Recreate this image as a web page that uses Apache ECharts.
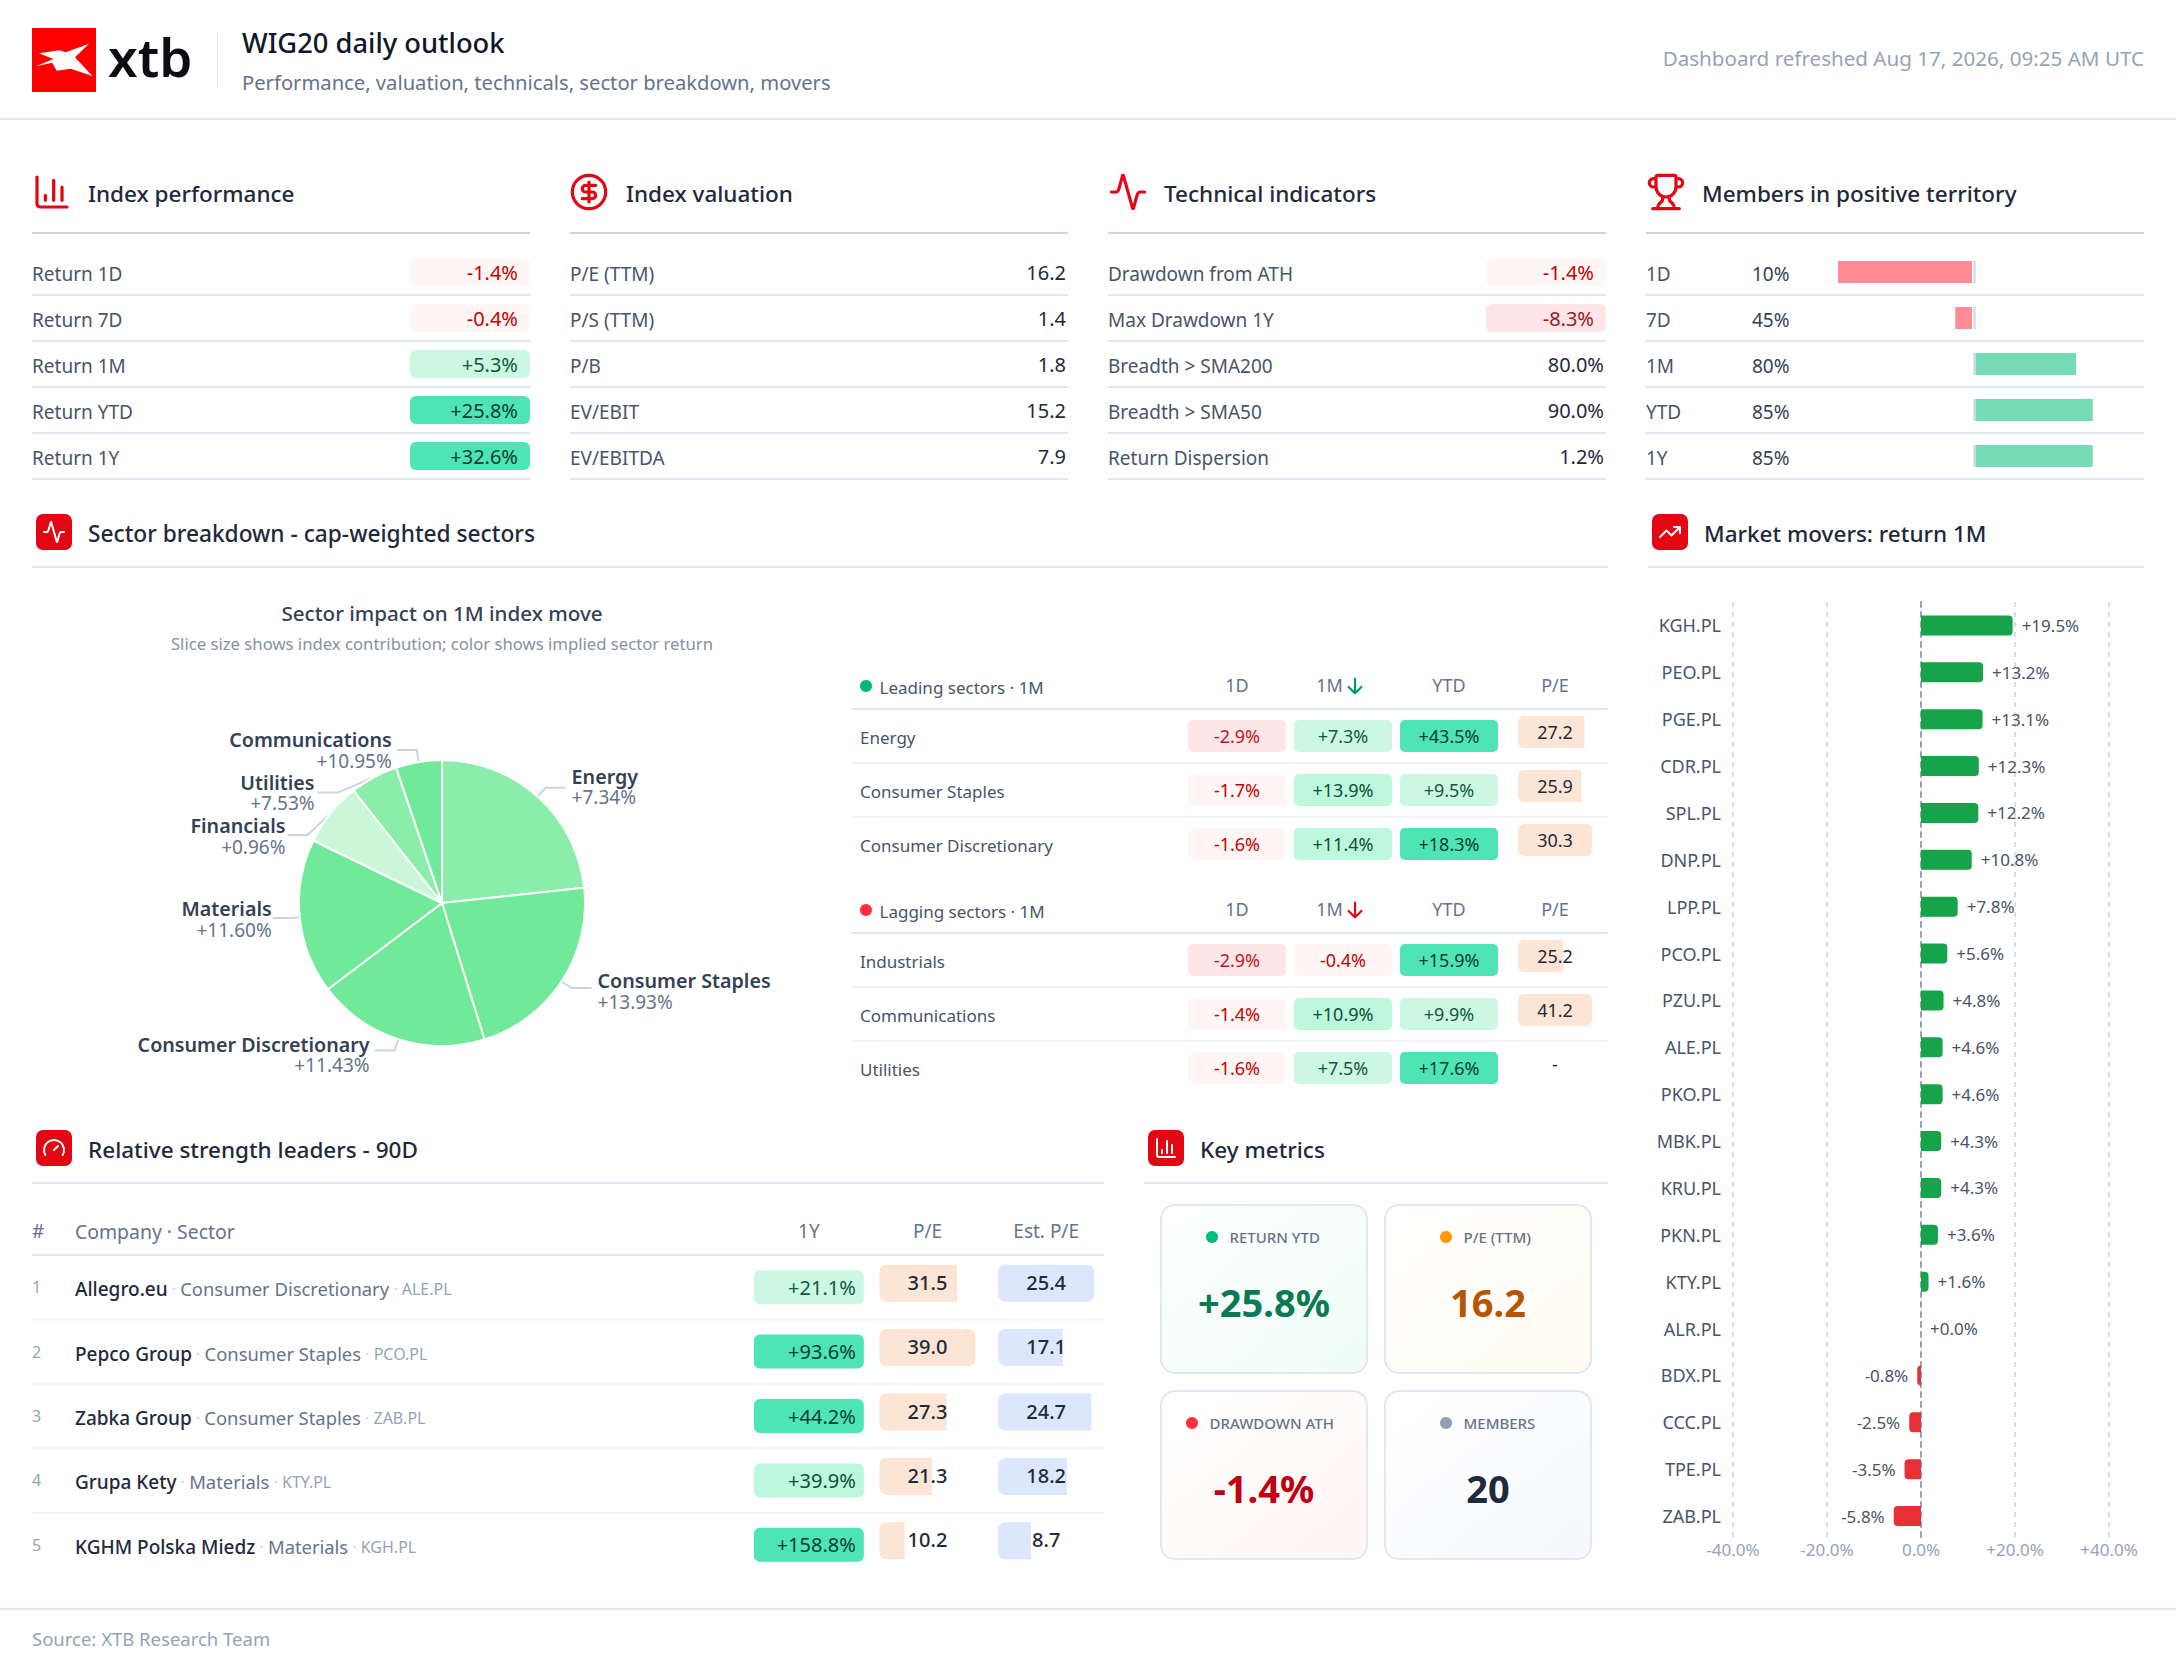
<!DOCTYPE html>
<html><head><meta charset="utf-8"><title>WIG20 daily outlook</title>
<style>html,body{margin:0;padding:0;background:#fff}#c{width:2176px;height:1666px}</style>
<script src="https://cdn.jsdelivr.net/npm/echarts@6/dist/echarts.min.js"></script>
</head><body><div id="c"></div><script>
const perfLabels=['Return 1D','Return 7D','Return 1M','Return YTD','Return 1Y'];
const perfValues=[-1.4,-0.4,5.3,25.8,32.6];
const valuationLabels=['P/E (TTM)','P/S (TTM)','P/B','EV/EBIT','EV/EBITDA'];
const valuationValues=[16.2,1.4,1.8,15.2,7.9];
const techLabels=['Drawdown from ATH','Max Drawdown 1Y','Breadth > SMA200','Breadth > SMA50','Return Dispersion'];
const techValues=[-1.4,-8.3,80.0,90.0,1.2];
const memberLabels=['1D','7D','1M','YTD','1Y'];
const memberPct=[10,45,80,85,85];
const pieSectors=['Energy','Consumer Staples','Consumer Discretionary','Materials','Financials','Utilities','Communications'];
const pieContribution=[23.3,21.9,19.5,17.5,7.2,5.4,5.2];
const pieReturns=[7.34,13.93,11.43,11.60,0.96,7.53,10.95];
const sectorCols=['1D','1M','YTD','P/E'];
const leadingNames=['Energy','Consumer Staples','Consumer Discretionary'];
const leading1D=[-2.9,-1.7,-1.6];
const leading1M=[7.3,13.9,11.4];
const leadingYTD=[43.5,9.5,18.3];
const leadingPE=[27.2,25.9,30.3];
const laggingNames=['Industrials','Communications','Utilities'];
const lagging1D=[-2.9,-1.4,-1.6];
const lagging1M=[-0.4,10.9,7.5];
const laggingYTD=[15.9,9.9,17.6];
const laggingPE=[25.2,41.2,null];
const rsCompanies=['Allegro.eu','Pepco Group','Zabka Group','Grupa Kety','KGHM Polska Miedz'];
const rsSectors=['Consumer Discretionary','Consumer Staples','Consumer Staples','Materials','Materials'];
const rsTickers=['ALE.PL','PCO.PL','ZAB.PL','KTY.PL','KGH.PL'];
const rs1Y=[21.1,93.6,44.2,39.9,158.8];
const rsPE=[31.5,39.0,27.3,21.3,10.2];
const rsEstPE=[25.4,17.1,24.7,18.2,8.7];
const rsCols=['1Y','P/E','Est. P/E'];
const moverTickers=['KGH.PL','PEO.PL','PGE.PL','CDR.PL','SPL.PL','DNP.PL','LPP.PL','PCO.PL','PZU.PL','ALE.PL','PKO.PL','MBK.PL','KRU.PL','PKN.PL','KTY.PL','ALR.PL','BDX.PL','CCC.PL','TPE.PL','ZAB.PL'];
const moverReturns=[19.5,13.2,13.1,12.3,12.2,10.8,7.8,5.6,4.8,4.6,4.6,4.3,4.3,3.6,1.6,0.0,-0.8,-2.5,-3.5,-5.8];
const metricLabels=['RETURN YTD','P/E (TTM)','DRAWDOWN ATH','MEMBERS'];
const metricValues=['+25.8%','16.2','-1.4%','20'];

const FONT='"Noto Sans"';
const RED='#e30613';
const signed=v=>(v>=0?'+':'')+v.toFixed(1)+'%';
function heat(v,mid,strong){
  if(v<=-2) return {bg:'#ffe5e7',fg:v<=-5?'#991b1b':'#b91c1c'};
  if(v<0) return {bg:'#fff6f5',fg:'#c80000'};
  if(v>=strong) return {bg:'#4ee4b6',fg:'#063f2e'};
  if(v>=mid) return {bg:'#bdf8dd',fg:'#0b4f38'};
  return {bg:'#ccf8e3',fg:'#0f5a3d'};
}
const grids=[],xAxes=[],yAxes=[],series=[],gfx=[];
function txt(x,y,text,size,fill,weight,align){
  gfx.push({type:'text',x,y,silent:true,z:5,style:{text,fill,fontFamily:FONT,fontSize:size,fontWeight:weight||400,align:align||'left',verticalAlign:'middle'}});
}
function rule(x1,x2,y,color){gfx.push({type:'rect',silent:true,z:1,shape:{x:x1,y:y-1,width:x2-x1,height:2},style:{fill:color}});}
function dot(x,y,r,fill){gfx.push({type:'circle',silent:true,z:5,shape:{cx:x,cy:y,r},style:{fill}});}
function addGrid(g,x,y){grids.push(g);xAxes.push(Object.assign({gridIndex:grids.length-1},x));yAxes.push(Object.assign({gridIndex:grids.length-1},y));return grids.length-1;}
function cellSeries(gi,cells){
  series.push({type:'custom',coordinateSystem:'cartesian2d',xAxisIndex:gi,yAxisIndex:gi,clip:false,silent:true,z:4,
    data:cells.map(c=>[c.col,c.row]),
    renderItem(params,api){
      const c=cells[params.dataIndex];const p=api.coord([c.col,c.row]);const band=api.size([1,0])[0];
      return {type:'group',children:c.draw(p,band,api)};
    }});
}
const rectEl=(x,y,w,h,fill,r)=>({type:'rect',shape:{x,y,width:w,height:h,r},style:{fill}});
const textEl=(x,y,text,size,fill,weight,align)=>({type:'text',style:{x,y,text,fill,fontFamily:FONT,fontSize:size,fontWeight:weight||400,align:align||'center',verticalAlign:'middle'}});
const hiddenCat=data=>({type:'category',data,axisLine:{show:false},axisTick:{show:false},axisLabel:{show:false},splitLine:{show:false}});

/* ---- page chrome ---- */
gfx.push({type:'rect',silent:true,shape:{x:32,y:28,width:64,height:64},style:{fill:'#ff0000'}});
gfx.push({type:'polygon',silent:true,z:3,shape:{points:[[39,53.3],[59.3,50.3],[65.7,52.3],[89,43.7],[75,57.3],[92.3,76],[70.7,68.7],[56.7,70.7],[52.3,62.7],[36,66.3],[53.3,59]]},style:{fill:'#fff'}});
txt(108,56,'xtb',53,'#0b0d12',600);
gfx.push({type:'rect',silent:true,shape:{x:217,y:32,width:1,height:56},style:{fill:'#e2e8f0'}});
txt(242,42,'WIG20 daily outlook',27.3,'#0f172a',500);
txt(242,82,'Performance, valuation, technicals, sector breakdown, movers',20.2,'#64748b',400);
txt(2144,58,'Dashboard refreshed Aug 17, 2026, 09:25 AM UTC',20.6,'#94a3b8',400,'right');
rule(0,2176,119,'#e2e8f0');
rule(0,2176,1609,'#e2e8f0');
txt(32,1638.5,'Source: XTB Research Team',18.5,'#94a3b8',400);

/* ---- section headers ---- */
const P={
 chart:'M3 3v16a2 2 0 0 0 2 2h16M18 17V9M13 17V5M8 17v-3',
 dollar:'M12 2a10 10 0 1 0 0 20a10 10 0 1 0 0-20zM16 8h-6a2 2 0 1 0 0 4h4a2 2 0 1 1 0 4H8M12 18V6',
 pulse:'M22 12h-2.48a2 2 0 0 0-1.93 1.46l-2.35 8.36a.25.25 0 0 1-.48 0L9.24 2.18a.25.25 0 0 0-.48 0l-2.35 8.36A2 2 0 0 1 4.49 12H2',
 trophy:'M10 14.66v1.626a2 2 0 0 1-.976 1.696A5 5 0 0 0 7 21.978M14 14.66v1.626a2 2 0 0 0 .976 1.696A5 5 0 0 1 17 21.978M18 9h1.5a1 1 0 0 0 0-5H18M4 22h16M6 9a6 6 0 0 0 12 0V3a1 1 0 0 0-1-1H7a1 1 0 0 0-1 1zM6 9H4.5a1 1 0 0 1 0-5H6',
 trend:'M22 7 13.5 15.5 8.5 10.5 2 17M16 7h6v6',
 gauge:'M12 14l4-4M3.34 19a10 10 0 1 1 17.32 0',
 arrow:'M12 4v16M19 13l-7 7-7-7'
};
const icons=[
 {x:32,y:172,p:P.chart},{x:569,y:172,p:P.dollar},{x:1108,y:172,p:P.pulse},{x:1646,y:172,p:P.trophy},
 {x:36,y:514,p:P.pulse,box:1},{x:1652,y:514,p:P.trend,box:1},{x:36,y:1130,p:P.gauge,box:1},{x:1148,y:1130,p:P.chart,box:1},
 {x:1344,y:675,p:P.arrow,size:22,color:'#059669',lw:2.2},{x:1344,y:899,p:P.arrow,size:22,color:RED,lw:2.2}
];
series.push({type:'custom',coordinateSystem:'none',silent:true,z:6,data:icons.map((_,i)=>[i]),
 renderItem(params){
  const ic=icons[params.dataIndex];const kids=[];
  const sz=ic.size||(ic.box?24:40),ox=ic.box?ic.x+6:ic.x,oy=ic.box?ic.y+6:ic.y;
  if(ic.box)kids.push(rectEl(ic.x,ic.y,36,36,RED,7));
  kids.push({type:'path',shape:{pathData:'M0 0M24 24'+ic.p,x:ox,y:oy,width:sz,height:sz,layout:'cover'},
    style:{fill:'none',stroke:ic.color||(ic.box?'#fff':RED),lineWidth:ic.lw||(ic.box?2:3.2),lineCap:'round',lineJoin:'round'}});
  return {type:'group',children:kids};
 }});
const TITLE='#1e293b',TS=22.5;
[[88,193.5,'Index performance',32,530],[626,193.5,'Index valuation',570,1068],[1164,193.5,'Technical indicators',1108,1606],[1702,193.5,'Members in positive territory',1646,2144]].forEach(a=>{txt(a[0],a[1],a[2],TS,TITLE,500);rule(a[3],a[4],233,'#cbd5e1');});
[[88,533,'Sector breakdown - cap-weighted sectors',32,1608],[1704,533,'Market movers: return 1M',1648,2144]].forEach(a=>{txt(a[0],a[1],a[2],a[0]===88?22.7:TS,TITLE,500);rule(a[3],a[4],567,'#e2e8f0');});
[[88,1149,'Relative strength leaders - 90D',32,1104],[1200,1149,'Key metrics',1144,1608]].forEach(a=>{txt(a[0],a[1],a[2],TS,TITLE,500);rule(a[3],a[4],1183,'#e2e8f0');});

/* ---- four top tables ---- */
function labelAxis(data,margin,extra){
  const size=(extra&&extra.fontSize)||19;
  const plain={formatter:v=>'{t|'+v+'}',rich:{t:{fontFamily:FONT,fontSize:size,color:'#475569',padding:[3,0,0,0]}}};
  return {type:'category',data,inverse:true,axisLine:{show:false},axisTick:{show:false},splitLine:{show:false},
    axisLabel:Object.assign({show:true,interval:0,align:'left',margin,fontFamily:FONT,fontSize:size,color:'#475569'},(extra&&extra.rich)?extra:plain)};
}
function kpiTable(left,right,labels,values,isChip,fmt){
  [295,341,387,433,479].forEach(y=>rule(left,right,y,'#e2e8f0'));
  const gi=addGrid({left,top:249,width:right-left,height:230},hiddenCat(['value']),labelAxis(labels,0));
  cellSeries(gi,values.map((v,i)=>({col:0,row:i,draw(p,band){
    const r=p[0]+band/2;
    if(isChip(i)){const h=heat(v,10,15);return [rectEl(r-120,p[1]-14,120,28,h.bg,6),textEl(r-12,p[1],fmt(v),20,h.fg,400,'right')];}
    return [textEl(r-2,p[1],fmt(v),20,'#1e293b',400,'right')];
  }})));
}
kpiTable(32,530,perfLabels,perfValues,()=>true,signed);
kpiTable(570,1068,valuationLabels,valuationValues,()=>false,v=>v.toFixed(1));
kpiTable(1108,1606,techLabels,techValues,i=>i<2,v=>v<0?signed(v):v.toFixed(1)+'%');

[295,341,387,433,479].forEach(y=>rule(1646,2144,y,'#e2e8f0'));
const mi=addGrid({left:1807,top:249,width:335,height:230},
  {type:'value',min:-50,max:50,show:false},
  labelAxis(memberLabels.map((m,i)=>'{a|'+m+'}{b|'+memberPct[i]+'%}'),161,{rich:{a:{width:106,fontFamily:FONT,fontSize:19,color:'#475569',padding:[3,0,0,0]},b:{fontFamily:FONT,fontSize:19,color:'#334155',padding:[3,0,0,0]}}}));
series.push({type:'custom',coordinateSystem:'cartesian2d',xAxisIndex:mi,yAxisIndex:mi,clip:false,silent:true,
  data:memberPct.map((p,i)=>[p-50,i]),
  renderItem(params,api){
    const v=api.value(0),z=api.coord([0,api.value(1)]),e=api.coord([v,api.value(1)]);
    const w=Math.abs(e[0]-z[0]);
    return {type:'group',children:[
      v<0?rectEl(z[0]-2.5-w,z[1]-11,w,22,'#ff8c94',0):rectEl(z[0]+1,z[1]-11,w,22,'#76dcb8',0),
      rectEl(z[0]-1,z[1]-11,2,22,'#cbd5e1',0)]};
  }});

/* ---- pie ---- */
txt(442,613,'Sector impact on 1M index move',20.6,'#334155',500,'center');
txt(442,643.5,'Slice size shows index contribution; color shows implied sector return',16.7,'#8492a6',400,'center');
const pieColor=r=>r<1?'#c9f7d8':r<8?'#8aeeaa':'#70e999';
const pieNudge=[[1,-1],[1,3],[0,4],[4,1],[3,1.2],[2,0],[0,0]];
series.push({type:'pie',center:[442,903],radius:143,startAngle:90,clockwise:true,silent:true,
  itemStyle:{borderColor:'#fff',borderWidth:2},
  minShowLabelAngle:0,avoidLabelOverlap:true,
  label:{formatter:p=>'{n|'+p.name+'}\n{v|+'+pieReturns[p.dataIndex].toFixed(2)+'%}',
    rich:{n:{fontFamily:FONT,fontSize:19.7,fontWeight:600,color:'#334155',lineHeight:21},v:{fontFamily:FONT,fontSize:19,color:'#64748b',lineHeight:21}}},
  labelLine:{length:12,length2:20,lineStyle:{color:'#cbd5e1',width:2}},
  labelLayout:p=>({dx:pieNudge[p.dataIndex][0],dy:pieNudge[p.dataIndex][1]}),
  data:pieSectors.map((n,i)=>({name:n,value:pieContribution[i],itemStyle:{color:pieColor(pieReturns[i])}}))});

/* ---- sector tables ---- */
function sectorTable(top,title,dotColor,names,d1,m1,ytd,pe){
  const hy=top-23;
  dot(866,hy,6,dotColor);
  txt(879.5,hy+1,title,17,'#475569',400);
  rule(852,1608,top,'#e2e8f0');
  rule(852,1608,top+54,'#f1f5f9');
  rule(852,1608,top+108,'#f1f5f9');
  const gi=addGrid({left:1184,top,width:424,height:162},
    {type:'category',data:sectorCols,position:'top',axisLine:{show:false},axisTick:{show:false},splitLine:{show:false},
     axisLabel:{show:true,interval:0,margin:15,fontFamily:FONT,fontSize:18,color:'#64748b',
       formatter:v=>v==='1M'?'{m|'+v+'}{a| }':v,rich:{m:{fontFamily:FONT,fontSize:18,color:'#64748b'},a:{width:27,fontSize:18}}}},
    labelAxis(names,324,{fontSize:17}));
  const cells=[];
  [d1,m1,ytd].forEach((arr,c)=>arr.forEach((v,r)=>cells.push({col:c,row:r,draw(p){
    const h=heat(v,10,15);
    return [rectEl(p[0]-49,p[1]-16,98,32,h.bg,5),textEl(p[0],p[1],signed(v),18,h.fg)];
  }})));
  const maxPE=Math.max(...pe.filter(v=>v!=null));
  pe.forEach((v,r)=>cells.push({col:3,row:r,draw(p){
    if(v==null)return [textEl(p[0],p[1]-4,'-',18,'#1e293b')];
    const w=74*v/maxPE;
    return [rectEl(p[0]-37,p[1]-20,w,32,'#fde5d5',v===maxPE?6:[6,0,0,6]),textEl(p[0],p[1]-4,v.toFixed(1),18,'#1e293b')];
  }}));
  cellSeries(gi,cells);
}
sectorTable(709,'Leading sectors · 1M','#00b976',leadingNames,leading1D,leading1M,leadingYTD,leadingPE);
sectorTable(933,'Lagging sectors · 1M','#ff2d3d',laggingNames,lagging1D,lagging1M,laggingYTD,laggingPE);

/* ---- relative strength ---- */
txt(32,1231,'#',19,'#64748b');
txt(75,1231,'Company · Sector',19.4,'#64748b');
rule(32,1104,1255,'#e2e8f0');
[1319.5,1384,1448,1513].forEach(y=>rule(32,1104,y,'#f1f5f9'));
const rsLabels=rsCompanies.map((c,i)=>'{r|'+(i+1)+'}{n|'+c+'}{d| · }{s|'+rsSectors[i]+'}{d| · }{t|'+rsTickers[i]+'}');
const ri=addGrid({left:749.5,top:1255,width:356,height:322},
  {type:'category',data:rsCols,position:'top',axisLine:{show:false},axisTick:{show:false},splitLine:{show:false},
   axisLabel:{show:true,interval:0,margin:15,fontFamily:FONT,fontSize:19,color:'#64748b'}},
  labelAxis(rsLabels,717.5,{rich:{
    r:{width:43,fontFamily:FONT,fontSize:16,color:'#94a3b8'},
    n:{fontFamily:FONT,fontSize:19,fontWeight:500,color:'#1e293b',padding:[4,0,0,0]},
    d:{fontFamily:FONT,fontSize:16,color:'#cbd5e1',padding:[4,0,0,0]},
    s:{fontFamily:FONT,fontSize:18.4,color:'#64748b',padding:[3,0,0,0]},
    t:{fontFamily:FONT,fontSize:16,color:'#94a3b8',padding:[4,0,0,0]}}}));
const rsCells=[];
const maxPE=Math.max(...rsPE),maxEst=Math.max(...rsEstPE);
rs1Y.forEach((v,r)=>rsCells.push({col:0,row:r,draw(p){const h=heat(v,30,40);
  return [rectEl(p[0]-55,p[1]-17,110,34,h.bg,6),textEl(p[0]+47,p[1],signed(v),20,h.fg,400,'right')];}}));
rsPE.forEach((v,r)=>rsCells.push({col:1,row:r,draw(p){
  return [rectEl(p[0]-48,p[1]-22.5,96*v/maxPE,37,'#fde5d5',v===maxPE?7:[7,0,0,7]),textEl(p[0],p[1]-5,v.toFixed(1),20,'#1e293b',500)];}}));
rsEstPE.forEach((v,r)=>rsCells.push({col:2,row:r,draw(p){
  return [rectEl(p[0]-48,p[1]-22.5,96*v/maxEst,37,'#dce7fd',v===maxEst?7:[7,0,0,7]),textEl(p[0],p[1]-5,v.toFixed(1),20,'#1e293b',500)];}}));
cellSeries(ri,rsCells);

/* ---- key metric cards ---- */
const cardTint=['#eefdf7','#fffbf0','#fff5f5','#f6f8fc'];
const cardDot=['#00bd7c','#ff9900','#ff3040','#8e9fba'];
const cardFg=['#0a7a55','#b85505','#c00010','#1e293b'];
const cardPos=[[1161,1205],[1385,1205],[1161,1391],[1385,1391]];
const dotX=[1212,1446,1192,1446];
metricLabels.forEach((l,i)=>{
  const [x,y]=cardPos[i];
  gfx.push({type:'rect',silent:true,z:2,shape:{x,y,width:206,height:168,r:14},style:{stroke:'#e2e8f0',lineWidth:2,
    fill:new echarts.graphic.LinearGradient(0,0,1,1,[{offset:0,color:'#ffffff'},{offset:1,color:cardTint[i]}])}});
  dot(dotX[i],y+32,6,cardDot[i]);
  txt(dotX[i]+17.5,y+32,l,15,'#64748b',500);
  txt(x+103,y+97,metricValues[i],38,cardFg[i],700,'center');
});

/* ---- market movers ---- */
const gm=addGrid({left:1733,top:602,width:376,height:937.5},
  {type:'value',min:-40,max:40,interval:20,axisLine:{show:false},axisTick:{show:false},
   splitLine:{show:true,lineStyle:{color:'#d5dde8',type:[5,5],width:2}},
   axisLabel:{margin:1,fontFamily:FONT,fontSize:17,color:'#94a3b8',formatter:v=>v===0?'0.0%':signed(v)}},
  {type:'category',data:moverTickers,inverse:true,axisTick:{show:false},
   axisLine:{show:true,onZero:true,lineStyle:{color:'#94a3b8',type:[5,5],width:2}},
   axisLabel:{interval:0,margin:12,fontFamily:FONT,fontSize:18,color:'#475569'}});
series.push({type:'bar',xAxisIndex:gm,yAxisIndex:gm,barWidth:20,silent:true,
  label:{show:true,distance:9,fontFamily:FONT,fontSize:17,color:'#475569',formatter:p=>signed(p.value)},
  data:moverReturns.map(v=>({value:v,
    itemStyle:{color:v<0?'#e93037':'#17a34a',borderRadius:v<0?[4,0,0,4]:[0,4,4,0]},
    label:{position:v<0?'left':'right'}}))});

const chart=echarts.init(document.getElementById('c'),null,{renderer:'svg',width:2176,height:1666});
chart.setOption({animation:false,backgroundColor:'#fff',textStyle:{fontFamily:FONT},grid:grids,xAxis:xAxes,yAxis:yAxes,series,graphic:{elements:gfx}});
</script></body></html>
